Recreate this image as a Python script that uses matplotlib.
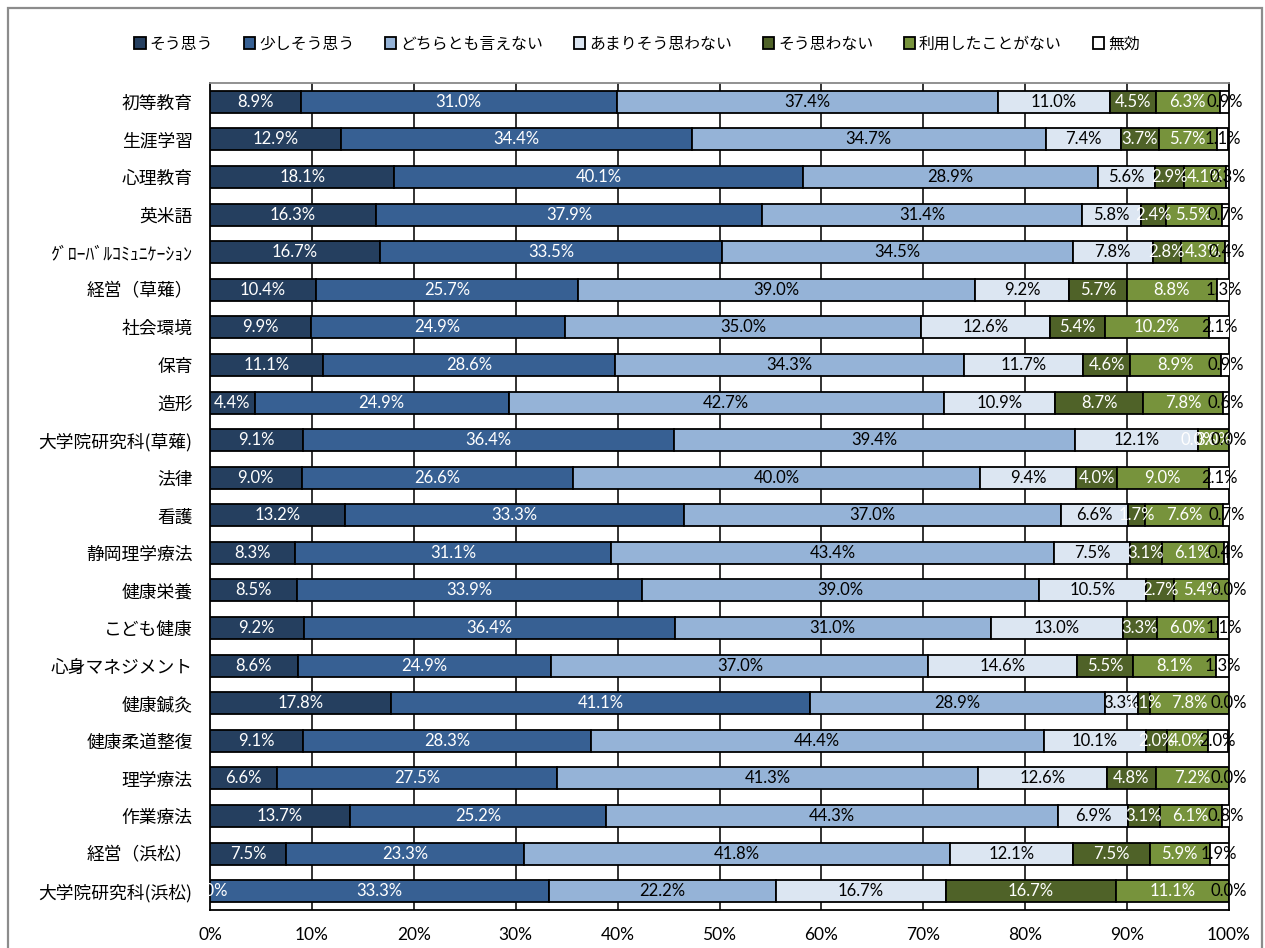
import matplotlib
matplotlib.use('Agg')
import matplotlib.pyplot as plt
from matplotlib.patches import Patch, Rectangle
import numpy as np

categories = ['初等教育', '生涯学習', '心理教育', '英米語', 'ｸﾞﾛｰﾊﾞﾙｺﾐｭﾆｹｰｼｮﾝ',
              '経営（草薙）', '社会環境', '保育', '造形', '大学院研究科(草薙)',
              '法律', '看護', '静岡理学療法', '健康栄養', 'こども健康',
              '心身マネジメント', '健康鍼灸', '健康柔道整復', '理学療法', '作業療法',
              '経営（浜松）', '大学院研究科(浜松)']

series_names = ['そう思う', '少しそう思う', 'どちらとも言えない', 'あまりそう思わない',
                'そう思わない', '利用したことがない', '無効']

agree = [8.9, 12.9, 18.1, 16.3, 16.7, 10.4, 9.9, 11.1, 4.4, 9.1, 9.0, 13.2,
         8.3, 8.5, 9.2, 8.6, 17.8, 9.1, 6.6, 13.7, 7.5, 0.0]
somewhat_agree = [31.0, 34.4, 40.1, 37.9, 33.5, 25.7, 24.9, 28.6, 24.9, 36.4, 26.6, 33.3,
                  31.1, 33.9, 36.4, 24.9, 41.1, 28.3, 27.5, 25.2, 23.3, 33.3]
neutral = [37.4, 34.7, 28.9, 31.4, 34.5, 39.0, 35.0, 34.3, 42.7, 39.4, 40.0, 37.0,
           43.4, 39.0, 31.0, 37.0, 28.9, 44.4, 41.3, 44.3, 41.8, 22.2]
not_much = [11.0, 7.4, 5.6, 5.8, 7.8, 9.2, 12.6, 11.7, 10.9, 12.1, 9.4, 6.6,
            7.5, 10.5, 13.0, 14.6, 3.3, 10.1, 12.6, 6.9, 12.1, 16.7]
disagree = [4.5, 3.7, 2.9, 2.4, 2.8, 5.7, 5.4, 4.6, 8.7, 0.0, 4.0, 1.7,
            3.1, 2.7, 3.3, 5.5, 1.1, 2.0, 4.8, 3.1, 7.5, 16.7]
never_used = [6.3, 5.7, 4.1, 5.5, 4.3, 8.8, 10.2, 8.9, 7.8, 3.0, 9.0, 7.6,
              6.1, 5.4, 6.0, 8.1, 7.8, 4.0, 7.2, 6.1, 5.9, 11.1]
invalid = [0.9, 1.1, 0.3, 0.7, 0.4, 1.3, 2.1, 0.9, 0.6, 0.0, 2.1, 0.7,
           0.4, 0.0, 1.1, 1.3, 0.0, 2.0, 0.0, 0.8, 1.9, 0.0]

xticks = [0, 10, 20, 30, 40, 50, 60, 70, 80, 90, 100]
xticklabels = ['0%', '10%', '20%', '30%', '40%', '50%', '60%', '70%', '80%', '90%', '100%']

series = [agree, somewhat_agree, neutral, not_much, disagree, never_used, invalid]
colors = ['#253F5F', '#376093', '#95B3D7', '#DCE6F2', '#4F6228', '#77933C', '#FFFFFF']
text_colors = ['white', 'white', 'black', 'black', 'white', 'white', 'black']

W, H = 1265, 948
fig = plt.figure(figsize=(W / 100, H / 100), dpi=100)
fig.patch.set_facecolor('white')

ax = fig.add_axes([210 / W, 1 - 910 / H, (1229 - 210) / W, (910 - 83) / H])

y = np.arange(len(categories))
left = np.zeros(len(categories))
for vals, col, tcol in zip(series, colors, text_colors):
    vals = np.array(vals)
    ax.barh(y, vals, left=left, height=0.585, color=col, edgecolor='black',
            linewidth=1.3, zorder=3)
    for yi, (l, v) in enumerate(zip(left, vals)):
        ax.text(l + v / 2, yi, f'{v:.1f}%', ha='center', va='center',
                fontsize=12, color=tcol, family='Lato', zorder=5)
    left = left + vals

ax.set_xlim(0, 100)
ax.set_ylim(len(categories) - 0.5, -0.5)
ax.set_xticks(xticks)
ax.set_xticklabels(xticklabels, family='Lato', fontsize=12.5)
ax.set_yticks(y)
ax.set_yticklabels(categories, family=['Noto Sans CJK JP', 'DejaVu Sans'], fontsize=12.8)
ax.tick_params(axis='both', length=0)
ax.tick_params(axis='y', pad=12.5)
ax.tick_params(axis='x', pad=12.5)
for xv in xticks[1:-1]:
    ax.axvline(xv, color='#222222', linewidth=1.3, zorder=1)
for side in ['left', 'right', 'bottom']:
    ax.spines[side].set_color('black')
    ax.spines[side].set_linewidth(1.3)
ax.spines['top'].set_color('#888888')
ax.spines['top'].set_linewidth(1.3)

handles = [Patch(facecolor=c, edgecolor='black', linewidth=1.3) for c in colors]
fig.legend(handles, series_names, loc='center', bbox_to_anchor=(637 / W, 1 - 44 / H),
           ncol=7, frameon=False, handlelength=0.72, handleheight=0.72,
           handletextpad=0.25, columnspacing=1.93,
           prop={'family': ['Noto Sans CJK JP', 'DejaVu Sans'], 'size': 11.4})

fig.patches.append(Rectangle((8 / W, -0.1), (1262 - 8) / W, 0.1 + 1 - 8 / H,
                             transform=fig.transFigure, fill=False,
                             edgecolor='#8c8c8c', linewidth=1.6))

fig.savefig('out.png', dpi=100)
